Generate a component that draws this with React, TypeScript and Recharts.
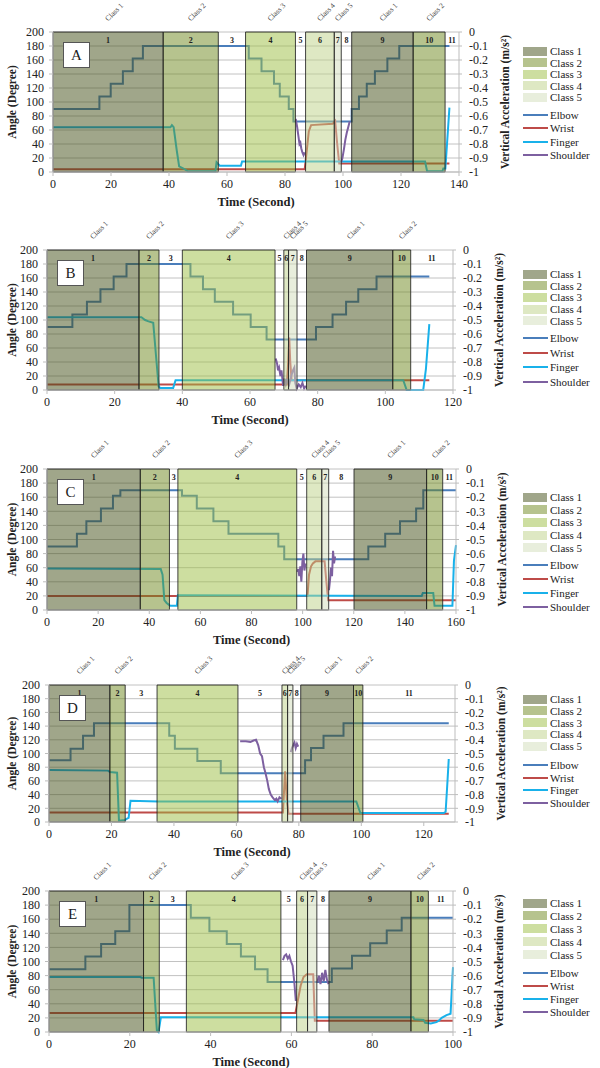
import React from "react";
import { LineChart, Line, XAxis, YAxis, CartesianGrid, ReferenceArea } from "recharts";

const FONT = "'Liberation Serif', 'Times New Roman', serif";

type Pt = [number, number | null];

// class of each of the 11 numbered segments (0 = not shaded)
const segmentClass = [1, 2, 0, 3, 0, 4, 5, 0, 1, 2, 0];
const classFill = ["none", "#414d15", "#6d871d", "#9bbd41", "#bdd187", "#d1ddb9"];
const classNames = ["Class 1", "Class 2", "Class 3", "Class 4", "Class 5"];

const seriesNames = ["Elbow", "Wrist", "Finger", "Shoulder"];
const seriesColors = ["#4a7ebb", "#be4b48", "#19b1ea", "#7d60a0"];

const angleTicks = [0, 20, 40, 60, 80, 100, 120, 140, 160, 180, 200];
const accTicks = [-1, -0.9, -0.8, -0.7, -0.6, -0.5, -0.4, -0.3, -0.2, -0.1, 0];

// ---- panel A ----
const boundsA = [0, 38, 57, 66.4, 83.6, 87.1, 97, 99.4, 103, 124.2, 135.2, 140];
const elbowA: Pt[] = [[0, 90], [16, 108], [19.9, 126], [24.1, 144], [27.5, 162], [31, 180], [67.5, 162], [71.9, 144], [76.2, 126], [78.2, 108], [81.3, 90], [82.9, 72], [103, 90], [105.5, 108], [108.2, 126], [111, 144], [115.3, 162], [119.4, 180], [136.7, 180]];
const wristA: Pt[] = [[0, 4], [86.8, 4], [87.5, 30], [88.2, 58], [89, 67], [96.5, 69], [97.3, 73], [98, 40], [98.7, 12], [136.7, 12]];
const fingerA: Pt[] = [[0, 64], [40.5, 64], [41, 67], [41.6, 64], [42.7, 30], [43.5, 8], [45, 5], [46.5, 1], [56, 1], [56.4, 14], [57.5, 9], [64.8, 9], [65.2, 15], [128.3, 15], [129, 1], [134.3, 1], [134.6, 5], [135.3, 5], [136.7, 92]];
const shoulderA: Pt[] = [[83.7, -0.62], [84.2, -0.68], [84.6, -0.74], [85, -0.8], [85.3, -0.79], [85.6, -0.83], [86, -0.86], [86.4, -0.88], [86.8, -0.86], [93, null], [99.4, -0.93], [99.8, -0.9], [100.3, -0.84], [100.8, -0.77], [101.3, -0.72], [101.8, -0.68], [102.3, -0.64]];

// ---- panel B ----
const boundsB = [0, 27.2, 33.1, 40, 67.4, 70, 71.4, 73.9, 76.7, 102.2, 107.5, 120];
const elbowB: Pt[] = [[0, 90], [7.5, 108], [11.8, 126], [15.8, 144], [19.7, 162], [23.5, 180], [42.4, 162], [46.1, 144], [49.6, 126], [55, 108], [60.2, 90], [64.9, 72], [79.5, 90], [84.4, 108], [88.4, 126], [92, 144], [97.4, 162], [113, 162]];
const wristB: Pt[] = [[0, 8], [70.9, 8], [71.3, 40], [71.6, 75], [71.9, 40], [72.3, 14], [113, 14]];
const fingerB: Pt[] = [[0, 104], [27.9, 104], [29, 100], [30, 98], [31.4, 96], [32.2, 50], [33, 5], [33.5, 3], [37.3, 3], [38, 14], [105.3, 14], [106.3, 0], [111.2, 0], [112, 30], [113, 94]];
const shoulderB: Pt[] = [[67.6, -0.775], [68, -0.81], [68.3, -0.86], [68.6, -0.84], [69, -0.9], [69.3, -0.86], [69.8, -0.97], [70.2, -0.92], [70.6, -0.96], [71, -0.93], [71.6, -0.96], [72.2, -0.9], [72.7, -0.86], [73.1, -0.84], [73.4, -0.95], [73.8, -0.99], [74.4, -0.96], [75, -0.98], [75.5, -0.95], [76, -0.99], [76.5, -0.97]];

// ---- panel C ----
const boundsC = [0, 36.5, 47.9, 51.2, 97.7, 101.6, 107.5, 110.2, 120.1, 148.5, 154.8, 160];
const elbowC: Pt[] = [[0, 90], [11.7, 108], [15.4, 126], [21.1, 144], [25.8, 162], [28.7, 170], [52.8, 162], [58.6, 144], [65.1, 126], [71, 108], [90.5, 90], [92.8, 72], [125.7, 90], [132.3, 108], [138.1, 126], [144.4, 144], [147.2, 170], [160, 170]];
const wristC: Pt[] = [[0, 20], [101.9, 20], [102.5, 50], [103.3, 62], [104, 66], [105, 69], [108.6, 69], [109.3, 40], [110, 14], [160, 14]];
const fingerC: Pt[] = [[0, 59], [44.5, 58], [45.2, 50], [45.9, 14], [46.8, 10], [47.5, 8], [48.2, 6], [50.8, 6], [51.2, 21], [146.6, 20], [147, 24], [151.1, 24], [151.6, 6], [158.6, 6], [159.2, 70], [160, 92]];
const shoulderC: Pt[] = [[97.9, -0.73], [98.3, -0.71], [98.7, -0.76], [99.1, -0.69], [99.5, -0.8], [99.9, -0.66], [100.3, -0.6], [100.7, -0.72], [101.1, -0.67], [105, null], [110.3, -0.86], [110.7, -0.79], [111.1, -0.7], [111.5, -0.76], [111.9, -0.58], [112.3, -0.67], [112.7, -0.62]];

// ---- panel D ----
const boundsD = [0, 19.5, 24.4, 34.6, 60.5, 74.6, 76.4, 78.1, 80.6, 97.5, 100.5, 130];
const elbowD: Pt[] = [[0, 90], [6.9, 107], [10.9, 126], [14.4, 144], [38.5, 126], [40.3, 107], [47.5, 89], [55, 71], [82, 90], [83.9, 108], [87.9, 126], [94.3, 144], [128, 144]];
const wristD: Pt[] = [[0, 14], [74.9, 14], [75.6, 74], [76.2, 30], [76.7, 12], [128, 12]];
const fingerD: Pt[] = [[0, 76], [18.9, 75], [19.5, 73], [21.8, 72], [22.4, 2], [24.3, 3], [25, 5], [25.5, 6], [26.1, 31], [35, 30], [98.4, 30], [99.7, 13], [126.4, 13], [127, 15], [127.6, 60], [128, 92]];
const shoulderD: Pt[] = [[61.2, -0.41], [63, -0.41], [64.5, -0.415], [65.5, -0.405], [66.3, -0.4], [67, -0.44], [67.6, -0.5], [68.2, -0.52], [68.8, -0.6], [69.3, -0.64], [69.9, -0.7], [70.4, -0.76], [71, -0.8], [71.6, -0.82], [72.3, -0.84], [72.8, -0.83], [73.2, -0.85], [73.8, -0.82], [74.4, -0.83], [76, null], [77.4, -0.49], [77.8, -0.46], [78.2, -0.44], [78.6, -0.42], [79, -0.46], [79.4, -0.43], [79.8, -0.45]];

// ---- panel E ----
const boundsE = [0, 23.4, 27.3, 34, 57.4, 61.3, 64, 66.3, 69.3, 89.6, 93.9, 100];
const elbowE: Pt[] = [[0, 89], [9, 107], [12.9, 125], [16.4, 143], [19.9, 180], [35.1, 162], [39.7, 143], [44, 125], [47.5, 107], [51, 89], [54.1, 71], [70, 90], [75, 108], [79.5, 126], [83.6, 144], [87.3, 162], [100, 162]];
const wristE: Pt[] = [[0, 27], [61, 27], [61.6, 45], [62.3, 66], [63, 78], [63.8, 82], [65.4, 82], [65.8, 16], [100, 16]];
const fingerE: Pt[] = [[0, 78], [22.6, 78], [23, 77], [25.9, 77], [26.4, 30], [26.7, 2], [27.1, 0], [27.4, 10], [27.7, 21], [90.2, 21], [90.4, 18], [92.7, 17], [93.1, 13], [94.5, 12], [95.9, 14], [96.5, 16], [97.2, 20], [98.4, 24], [99.4, 26], [100, 92]];
const shoulderE: Pt[] = [[57.9, -0.49], [58.3, -0.46], [58.7, -0.45], [59.1, -0.48], [59.5, -0.46], [59.9, -0.5], [60.3, -0.53], [60.7, -0.64], [61.1, -0.78], [64, null], [66.4, -0.65], [66.8, -0.6], [67.2, -0.66], [67.6, -0.58], [68, -0.64], [68.4, -0.56], [68.8, -0.63], [69.2, -0.66]];

type PanelCfg = {
  name: string;
  top: number; bottom: number; left: number; right: number;
  xMax: number; xTicks: number[];
  bounds: number[];
  series: Pt[][];
  legend: [number, number, number, number]; // class row y, class gap, line row y, line gap
};

const panels: PanelCfg[] = [
  { name: "A", top: 32, bottom: 172, left: 53, right: 459, xMax: 140, xTicks: [0, 20, 40, 60, 80, 100, 120, 140], bounds: boundsA, series: [elbowA, wristA, fingerA, shoulderA], legend: [51, 11.6, 115, 13.3] },
  { name: "B", top: 250, bottom: 390, left: 47, right: 453, xMax: 120, xTicks: [0, 20, 40, 60, 80, 100, 120], bounds: boundsB, series: [elbowB, wristB, fingerB, shoulderB], legend: [274, 11.7, 338, 14.7] },
  { name: "C", top: 469, bottom: 610, left: 47, right: 456, xMax: 160, xTicks: [0, 20, 40, 60, 80, 100, 120, 140, 160], bounds: boundsC, series: [elbowC, wristC, fingerC, shoulderC], legend: [497, 12.7, 565, 14] },
  { name: "D", top: 685, bottom: 822, left: 49, right: 455, xMax: 130, xTicks: [0, 20, 40, 60, 80, 100, 120], bounds: boundsD, series: [elbowD, wristD, fingerD, shoulderD], legend: [699, 11.8, 765, 12.7] },
  { name: "E", top: 891, bottom: 1032, left: 49, right: 453, xMax: 100, xTicks: [0, 20, 40, 60, 80, 100], bounds: boundsE, series: [elbowE, wristE, fingerE, shoulderE], legend: [903, 12.9, 973, 13] },
];

const TOP_PAD = 40;
const BOTTOM_PAD = 45;
const RIGHT_W = 60;

const toRows = (pts: Pt[]) => pts.map(([t, v]) => ({ t, v }));
const fmtAcc = (v: number) => String(Number(v.toFixed(1)));

const segLabel = (num: number, cls: number) => (props: any) => {
  const vb = props.viewBox || {};
  const cx = vb.x + vb.width / 2;
  const lx = cx + 6;
  const ly = vb.y - 20;
  return (
    <g>
      <text x={cx} y={vb.y + 11} textAnchor="middle" fontSize={8} fontWeight="bold" fill="#222" fontFamily={FONT}>
        {num}
      </text>
      {cls > 0 && (
        <text x={lx} y={ly} transform={`rotate(-45 ${lx} ${ly})`} textAnchor="middle" dominantBaseline="central" fontSize={7.5} fill="#444" fontFamily={FONT}>
          {classNames[cls - 1]}
        </text>
      )}
    </g>
  );
};

function Panel({ p }: { p: PanelCfg }) {
  const plotH = p.bottom - p.top;
  const H = TOP_PAD + plotH + BOTTOM_PAD;
  const midY = TOP_PAD + plotH / 2;
  const midX = (p.left + p.right) / 2;
  const rx = p.right + 46;
  const tickStyle = { fontSize: 12, fill: "#222", fontFamily: FONT };

  return (
    <div style={{ position: "absolute", left: 0, top: p.top - TOP_PAD, width: 600, height: H }}>
      <LineChart width={600} height={H} margin={{ top: TOP_PAD, right: 600 - p.right - RIGHT_W, bottom: 0, left: 0 }}>
        <CartesianGrid yAxisId="left" vertical={false} stroke="#c2c2c2" />
        <XAxis
          dataKey="t"
          type="number"
          domain={[0, p.xMax]}
          ticks={p.xTicks}
          interval={0}
          height={BOTTOM_PAD}
          tick={tickStyle}
          tickSize={4}
          tickMargin={3}
          stroke="#bdbdbd"
          label={() => (
            <text x={midX} y={TOP_PAD + plotH + 30} textAnchor="middle" dominantBaseline="central" fontSize={12.5} fontWeight="bold" fill="#222" fontFamily={FONT}>
              Time (Second)
            </text>
          )}
        />
        <YAxis
          yAxisId="left"
          width={p.left}
          domain={[0, 200]}
          ticks={angleTicks}
          interval={0}
          tick={tickStyle}
          tickSize={4}
          tickMargin={5}
          stroke="#bdbdbd"
          label={() => (
            <text x={12} y={midY} transform={`rotate(-90 12 ${midY})`} textAnchor="middle" dominantBaseline="central" fontSize={11.5} fontWeight="bold" fill="#222" fontFamily={FONT}>
              Angle (Degree)
            </text>
          )}
        />
        <YAxis
          yAxisId="right"
          orientation="right"
          width={RIGHT_W}
          domain={[-1, 0]}
          ticks={accTicks}
          interval={0}
          tickFormatter={fmtAcc}
          tick={{ ...tickStyle, textAnchor: "start" }}
          tickSize={3}
          tickMargin={7}
          stroke="#bdbdbd"
          label={() => (
            <text x={rx} y={midY} transform={`rotate(-90 ${rx} ${midY})`} textAnchor="middle" dominantBaseline="central" fontSize={11.5} fontWeight="bold" fill="#222" fontFamily={FONT}>
              Vertical Acceleration (m/s²)
            </text>
          )}
        />
        {p.series.map((pts, i) => (
          <Line
            key={seriesNames[i]}
            yAxisId={i === 3 ? "right" : "left"}
            data={toRows(pts)}
            dataKey="v"
            name={seriesNames[i]}
            type={i === 0 ? "stepAfter" : "linear"}
            stroke={seriesColors[i]}
            strokeWidth={2}
            dot={false}
            activeDot={false}
            connectNulls={false}
            isAnimationActive={false}
          />
        ))}
        {segmentClass.map((cls, i) => (
          <ReferenceArea
            key={i}
            yAxisId="left"
            x1={p.bounds[i]}
            x2={p.bounds[i + 1]}
            y1={0}
            y2={200}
            fill={cls > 0 ? classFill[cls] : "#ffffff"}
            fillOpacity={cls > 0 ? 0.5 : 0}
            stroke={cls > 0 ? "#222" : "none"}
            strokeWidth={1}
            strokeOpacity={0.85}
            zIndex={450}
            label={segLabel(i + 1, cls)}
          />
        ))}
      </LineChart>
      <div
        style={{
          position: "absolute",
          left: p.left + 10,
          top: TOP_PAD + 10,
          width: 25,
          height: 24,
          background: "#fff",
          border: "1px solid #555",
          fontFamily: FONT,
          fontSize: 15,
          lineHeight: "24px",
          textAlign: "center",
          color: "#222",
        }}
      >
        {p.name}
      </div>
    </div>
  );
}

function PanelLegend({ p }: { p: PanelCfg }) {
  const [cy, cg, ly, lg] = p.legend;
  const text = { position: "absolute" as const, left: 550, fontFamily: FONT, fontSize: 11, color: "#222", lineHeight: "10px", whiteSpace: "nowrap" as const };
  return (
    <>
      {classNames.map((c, i) => (
        <React.Fragment key={c}>
          <div style={{ position: "absolute", left: 523, top: cy + i * cg - 4.5, width: 24, height: 9, background: classFill[i + 1], opacity: 0.5 }} />
          <div style={{ ...text, top: cy + i * cg - 5 }}>{c}</div>
        </React.Fragment>
      ))}
      {seriesNames.map((s, i) => (
        <React.Fragment key={s}>
          <div style={{ position: "absolute", left: 523, top: ly + i * lg - 1, width: 25, height: 2, background: seriesColors[i] }} />
          <div style={{ ...text, top: ly + i * lg - 5 }}>{s}</div>
        </React.Fragment>
      ))}
    </>
  );
}

export default function App() {
  return (
    <div style={{ position: "absolute", left: 0, top: 0, width: 600, height: 1068, background: "#fff" }}>
      {panels.map((p) => (
        <React.Fragment key={p.name}>
          <Panel p={p} />
          <PanelLegend p={p} />
        </React.Fragment>
      ))}
    </div>
  );
}
